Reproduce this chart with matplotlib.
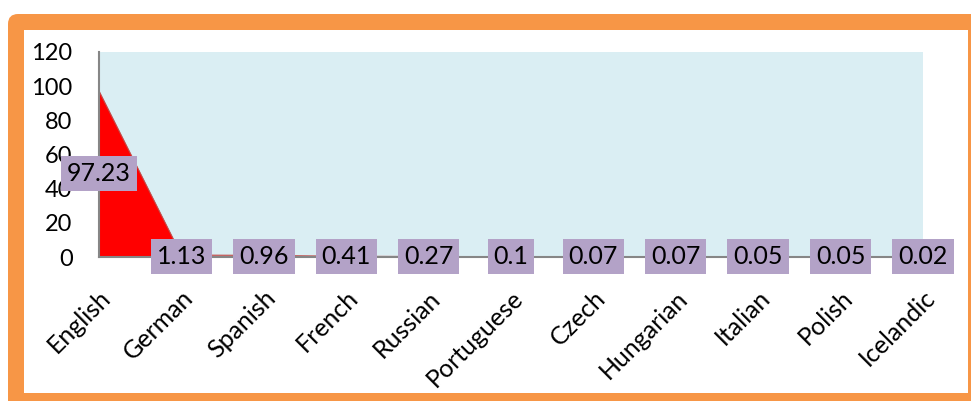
import matplotlib.pyplot as plt
from matplotlib.patches import FancyBboxPatch, Rectangle

languages = ['English', 'German', 'Spanish', 'French', 'Russian', 'Portuguese',
             'Czech', 'Hungarian', 'Italian', 'Polish', 'Icelandic']
shares = [97.23, 1.13, 0.96, 0.41, 0.27, 0.1, 0.07, 0.07, 0.05, 0.05, 0.02]
share_labels = ['97.23', '1.13', '0.96', '0.41', '0.27', '0.1', '0.07', '0.07', '0.05', '0.05', '0.02']
y_ticks = [0, 20, 40, 60, 80, 100, 120]

plt.rcParams['font.family'] = ['Lato', 'DejaVu Sans']

W, H = 971, 401
fig = plt.figure(figsize=(W / 100, H / 100), dpi=100)
inch = fig.dpi_scale_trans

# orange frame with white inside (coords in inches, y from bottom)
fig.patches.append(FancyBboxPatch((0.08, -0.2), 10.0, (H - 14) / 100 + 0.2,
                                  boxstyle='round,pad=0,rounding_size=0.1',
                                  transform=inch, facecolor='#F79646',
                                  edgecolor='none', zorder=0))
fig.patches.append(Rectangle((0.24, (H - 393) / 100), (968 - 24) / 100, (393 - 30) / 100,
                             transform=inch, facecolor='white',
                             edgecolor='none', zorder=0.5))

ax = fig.add_axes([99 / W, 1 - 257 / H, (923 - 99) / W, (257 - 52) / H])
ax.set_zorder(2)
ax.set_facecolor('#DAEEF3')
x = list(range(len(languages)))
ax.fill_between(x, shares, 0, color='#FF0000', linewidth=0, zorder=2)
ax.plot(x, shares, color='#C0504D', linewidth=0.8, zorder=2)

ax.set_xlim(0, len(languages) - 1)
ax.set_ylim(0, 120)
ax.set_yticks(y_ticks)
ax.set_xticks(x)
ax.set_xticklabels(languages, rotation=45, ha='right', va='top', rotation_mode='anchor')
ax.tick_params(axis='y', length=0, pad=19, labelsize=17)
ax.tick_params(axis='x', length=0, pad=21, labelsize=18)

for side in ['top', 'right']:
    ax.spines[side].set_visible(False)
for side in ['left', 'bottom']:
    ax.spines[side].set_color('#868686')
    ax.spines[side].set_linewidth(1.5)
    ax.spines[side].set_zorder(3)

for xi, v, lab in zip(x, shares, share_labels):
    ax.text(xi, v / 2, lab, ha='center', va='center', fontsize=18, zorder=5,
            clip_on=False,
            bbox=dict(boxstyle='square,pad=0.24', facecolor='#B3A2C7', edgecolor='none'))

fig.savefig('out.png', dpi=100)
